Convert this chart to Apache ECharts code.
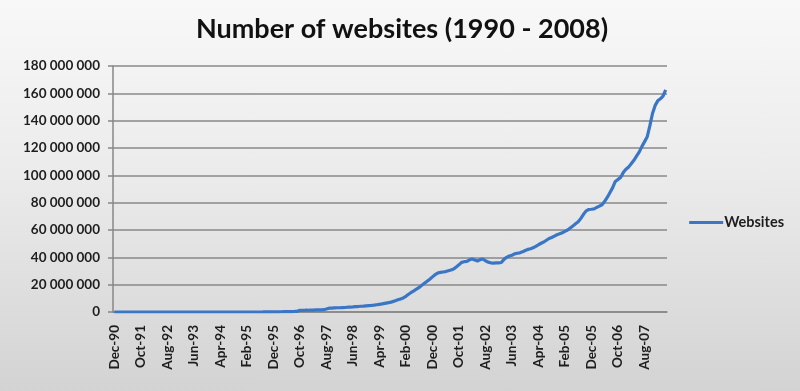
<!DOCTYPE html>
<html>
<head>
<meta charset="utf-8">
<script src="https://cdn.jsdelivr.net/npm/echarts@6/dist/echarts.min.js"></script>
<style>
html,body{margin:0;padding:0;}
#c{width:800px;height:391px;background:linear-gradient(180deg,#f8f8f8 0%,#ebebeb 45%,#d3d3d3 100%);}
</style>
</head>
<body>
<div id="c"></div>
<script>
// Month categories Dec-90 .. Apr-08
const MONTHS = ['Jan','Feb','Mar','Apr','May','Jun','Jul','Aug','Sep','Oct','Nov','Dec'];
const startYear = 1990, startMonth = 11, monthCount = 209;
const categories = [];
for (let k = 0; k < monthCount; k++) {
  const m = (startMonth + k) % 12;
  const y = startYear + Math.floor((startMonth + k) / 12);
  categories.push(MONTHS[m] + '-' + String(y % 100).padStart(2, '0'));
}

// Websites (millions)
const websitesEarly = new Array(56).fill(0); // Dec-90 .. Jul-95
const websitesLate = [
  0.02,0.05,0.07,0.1,0.1,0.1,0.15,0.2,0.23,0.25,0.3,0.34,0.4,0.5,
  1.2,1.2,1.3,1.3,1.4,1.4,1.5,1.5,1.6,1.7,
  2.2,2.8,2.9,3.0,3.1,3.1,3.2,3.3,3.5,3.6,
  3.7,3.9,4.0,4.2,4.3,4.5,4.7,4.8,5.0,5.3,
  5.6,5.9,6.3,6.7,7.0,7.6,8.2,8.9,9.6,10.3,
  11.5,13.0,14.3,15.5,16.8,18.0,19.5,21.0,22.5,24.0,
  25.7,27.3,28.5,29.0,29.3,29.6,30.2,30.7,31.5,33.0,
  34.5,36.3,36.8,37.0,38.2,38.8,38.0,37.3,38.3,38.8,
  37.5,36.5,36.0,35.8,35.9,36.0,36.2,38.5,40.0,41.0,
  41.5,42.5,43.0,43.3,44.0,45.0,45.8,46.3,47.0,48.0,
  49.2,50.3,51.2,52.5,53.8,54.5,55.5,56.5,57.2,58.0,
  59.0,60.0,61.5,63.0,64.5,66.0,68.5,71.5,74.0,75.0,
  75.2,75.5,76.5,77.5,78.5,81.0,84.0,87.5,91.0,95.5,
  97.0,98.5,102.0,104.5,106.0,108.5,111.0,114.0,117.0,121.0,
  124.5,128.0,136.0,145.0,151.0,154.5,156.0,158.0,162.5
];
const websites = websitesEarly.concat(websitesLate).map(v => Math.round(v * 1e6));

const yMin = 0, yMax = 180000000, yInterval = 20000000;
const titleText = 'Number of websites (1990 - 2008)';
const seriesName = 'Websites';

function fmt(v){
  return String(v).replace(/\B(?=(\d{3})+(?!\d))/g, ' ');
}

const labelFont = {fontFamily: 'Lato', fontWeight: 'bold', fontSize: 13.5, color: '#1e1e1e'};

const chart = echarts.init(document.getElementById('c'), null, {renderer:'canvas'});
chart.setOption({
  backgroundColor: 'transparent',
  animation: false,
  title: {
    text: titleText,
    left: 397, top: 11, textAlign: 'center',
    textStyle: {fontFamily: 'Lato', fontWeight: 'bold', fontSize: 27, color: '#111'}
  },
  legend: {
    right: 11, orient: 'vertical',
    top: 210,
    itemWidth: 34, itemHeight: 3, itemGap: 4,
    icon: 'rect',
    textStyle: Object.assign({}, labelFont, {fontSize: 14.5, padding: [0,0,0,-4]}),
    data: [{name: seriesName, icon: 'rect'}]
  },
  grid: {left: 113, right: 133, top: 66, bottom: 79, containLabel: false},
  xAxis: {
    type: 'category',
    data: categories,
    boundaryGap: true,
    axisLine: {lineStyle: {color: '#878787', width: 1.5}},
    axisTick: {interval: 9, alignWithLabel: true, length: 5, lineStyle: {color: '#878787', width: 1.5}},
    axisLabel: Object.assign({interval: 9, rotate: 90, margin: 13}, labelFont)
  },
  yAxis: {
    type: 'value',
    min: yMin, max: yMax, interval: yInterval,
    axisLine: {show: true, lineStyle: {color: '#878787', width: 1.5}},
    axisTick: {show: true, length: 5, lineStyle: {color: '#878787', width: 1.5}},
    splitLine: {lineStyle: {color: '#888888', width: 1.6}},
    axisLabel: Object.assign({formatter: fmt, margin: 13}, labelFont)
  },
  series: [{
    name: seriesName,
    type: 'line',
    data: websites,
    showSymbol: false,
    symbol: 'none',
    lineStyle: {color: '#3a76c6', width: 3.2},
    itemStyle: {color: '#3a76c6'}
  }]
});
</script>
</body>
</html>
